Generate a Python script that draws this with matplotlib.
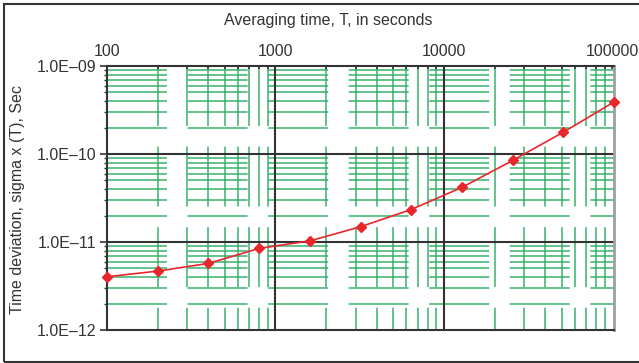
import matplotlib.pyplot as plt
from matplotlib.patches import Rectangle

plt.rcParams['font.family'] = ['Liberation Sans', 'DejaVu Sans']
plt.rcParams['font.size'] = 11.5
plt.rcParams['lines.scale_dashes'] = False

# averaging time T (s) and time deviation sigma x(T) (s)
tau = [100, 200, 400, 800, 1600, 3200, 6400, 12800, 25600, 51200, 102400]
tdev = [4.03e-12, 4.67e-12, 5.71e-12, 8.46e-12, 1.03e-11, 1.49e-11,
        2.34e-11, 4.17e-11, 8.44e-11, 1.77e-10, 3.90e-10]

x_ticks = [100, 1000, 10000, 100000]
x_labels = ['100', '1000', '10000', '100000']
y_ticks = [1e-12, 1e-11, 1e-10, 1e-9]
y_labels = ['1.0E–12', '1.0E–11', '1.0E–10', '1.0E–09']

x_lim = (100, 102400)
y_lim = (1e-12, 1e-9)

x_minor = [m * 10**k for k in range(2, 5) for m in range(2, 10)]
y_minor = [m * 10.0**k for k in range(-12, -9) for m in range(2, 10)]

text_col = '#333333'

fig = plt.figure(figsize=(6.39, 3.63), dpi=100)
ax = fig.add_axes([107 / 639, 33 / 363, 507 / 639, 264 / 363])
ax.set_xscale('log')
ax.set_yscale('log')
ax.set_xlim(*x_lim)
ax.set_ylim(*y_lim)

# broken green minor grid (long dash, short gap)
green = '#2aad62'
dash = (0, (43.2, 14.8))
ax.hlines(y_minor, x_lim[0], x_lim[1], colors=green, linewidth=1.2,
          linestyles=[dash], alpha=0.85, zorder=1)
ax.vlines(x_minor, y_lim[1], y_lim[0], colors=green, linewidth=1.2,
          linestyles=[dash], alpha=0.85, zorder=1)

# decade lines
ax.hlines(y_ticks[1:-1], x_lim[0], x_lim[1], colors='#333333', linewidth=1.5, zorder=2)
ax.vlines(x_ticks[1:-1], y_lim[0], y_lim[1], colors='#333333', linewidth=1.5, zorder=2)

ax.plot(tau, tdev, color='#e8262b', linewidth=1.2, marker='D', markersize=5,
        zorder=4, clip_on=False)

for side in ['left', 'top', 'bottom']:
    ax.spines[side].set_color('#333333')
    ax.spines[side].set_linewidth(1.5)
ax.spines['right'].set_color('#a0a0a0')
ax.spines['right'].set_linewidth(2)

ax.set_xticks(x_ticks)
ax.set_xticklabels(x_labels)
ax.set_xticks(x_minor, minor=True)
ax.set_xticklabels([], minor=True)
ax.set_yticks(y_ticks)
ax.set_yticklabels(y_labels)
ax.set_yticks(y_minor, minor=True)
ax.set_yticklabels([], minor=True)

ax.xaxis.set_ticks_position('top')
ax.tick_params(axis='x', which='both', direction='in', top=True, bottom=False,
               labeltop=True, labelbottom=False, length=2.5, width=1.2,
               color='#333333', pad=5)
ax.tick_params(axis='y', which='major', direction='out', length=5, width=1.2,
               color='#333333', pad=3)
ax.tick_params(axis='y', which='minor', direction='out', length=2.5, width=1.0,
               color='#333333')
ax.tick_params(labelcolor=text_col)

fig.text(328 / 639, 1 - 20 / 363, 'Averaging time, T, in seconds',
         ha='center', va='center', color=text_col)
fig.text(18 / 639, 1 - 199 / 363, 'Time deviation, sigma x (T), Sec',
         ha='center', va='center', rotation=90, color=text_col)

# outer frame
fig.patches.append(Rectangle((4 / 639, 1.5 / 363), 640 / 639, 357.5 / 363,
                             transform=fig.transFigure, fill=False,
                             edgecolor='#333333', linewidth=1.5))

fig.savefig('out.png', dpi=100)
